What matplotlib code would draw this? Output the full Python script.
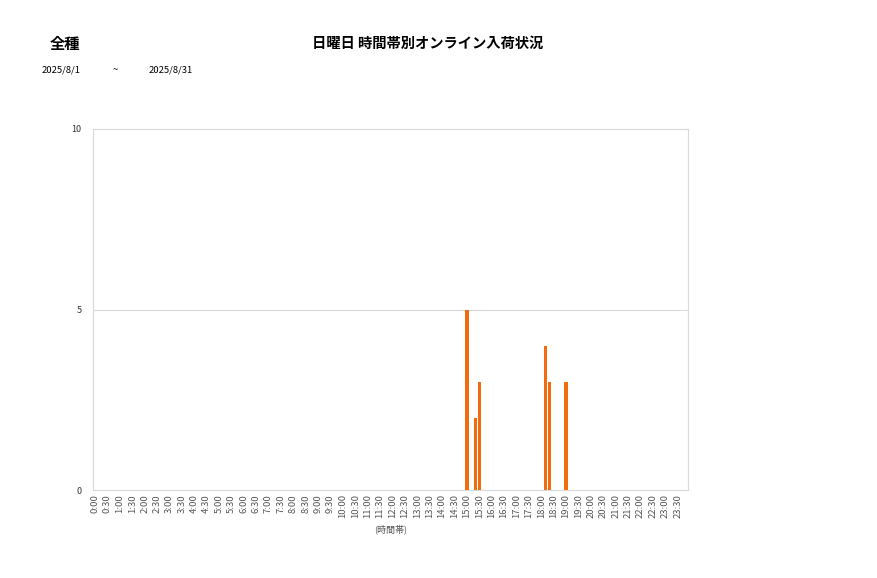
import numpy as np
import matplotlib
matplotlib.use("Agg")
from matplotlib import pyplot as plt

plt.rcParams['font.family'] = ['Noto Sans CJK JP', 'DejaVu Sans']

# 10-minute slots over the day, labels every 30 minutes
slots = ["%d:%02d" % (m // 60, m % 60) for m in range(0, 24 * 60, 10)]
tick_labels = ["%d:%02d" % (m // 60, m % 60) for m in range(0, 24 * 60, 30)]
arrivals = {"15:00": 5, "15:20": 2, "15:30": 3,
            "18:10": 4, "18:20": 3, "19:00": 3}
values = [arrivals.get(s, 0) for s in slots]

fig = plt.figure(figsize=(8.77, 5.78), dpi=100)
ax = fig.add_axes([0.106, 0.152, 0.6785, 0.625])

x = np.arange(len(slots))
ax.bar(x, values, width=0.78, color='#F26B0F', zorder=3)

ax.set_xlim(-0.5, len(slots) - 0.5)
ax.set_ylim(0, 10)
ax.set_yticks([0, 5, 10])
ax.set_yticklabels(['0', '5', '10'], fontsize=6.5, color='#333333')
ax.set_xticks(x[::3])
ax.set_xticklabels(tick_labels, rotation=90, fontsize=6.8, color='#555555')
ax.tick_params(length=0, pad=3)
ax.tick_params(axis='y', pad=8)
ax.grid(axis='y', color='#d9d9d9', linewidth=0.8, zorder=0)
for sp in ax.spines.values():
    sp.set_color('#d9d9d9')
    sp.set_linewidth(0.8)
ax.set_xlabel('(時間帯)', fontsize=6.5, color='#555555', labelpad=4)

fig.text(65 / 877, 1 - 44 / 578, '全種', fontsize=11, fontweight='bold',
         ha='center', va='center')
fig.text(428 / 877, 1 - 44 / 578, '日曜日 時間帯別オンライン入荷状況',
         fontsize=10.3, fontweight='bold', ha='center', va='center')
fig.text(42 / 877, 1 - 70 / 578, '2025/8/1', fontsize=6.8, va='center')
fig.text(113 / 877, 1 - 70 / 578, '~', fontsize=6.8, va='center')
fig.text(149 / 877, 1 - 70 / 578, '2025/8/31', fontsize=6.8, va='center')

fig.savefig('out.png', dpi=100)
